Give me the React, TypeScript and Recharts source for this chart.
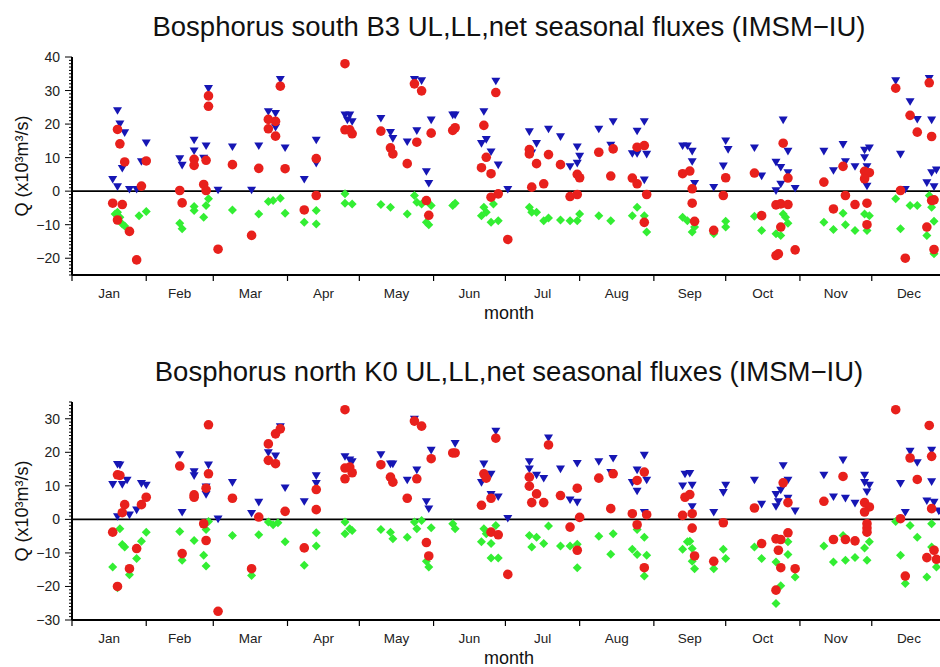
import React from "react";
import { ReferenceLine, Scatter, ScatterChart, XAxis, YAxis } from "recharts";

type Pt = [number, number]; // [day of year, Q in 10^3 m^3/s]

const monthNames = ["Jan", "Feb", "Mar", "Apr", "May", "Jun", "Jul", "Aug", "Sep", "Oct", "Nov", "Dec"];
const monthStarts = [0, 31, 59, 90, 120, 151, 181, 212, 243, 273, 304, 334, 365];
const monthMids = [15.5, 45, 74.5, 105, 135.5, 166, 196.5, 227.5, 258, 288.5, 319, 349.5];

const southTicks = [-20, -10, 0, 10, 20, 30, 40];
const northTicks = [-30, -20, -10, 0, 10, 20, 30];

// Bosphorus south B3
const southUL: Pt[] = [
  [19, 23.9], [20, 19.9], [22, 17.3], [21, 6.7], [17, 3.4], [19, 1.2], [24, 0.4], [27, 0.4], [31, 14.3], [29, 8.7],
  [45, 9.6], [46, 7.6], [51, 15.1], [51, 11.9], [56, 13.4], [55, 9.7], [57, 30.5], [61, 0.2], [67, 13.1], [75, 0.2],
  [78, 13.4], [82, 23.6], [85, 23.1], [85, 18.9], [87, 33.2], [89, 12.8],
  [102, 15.1], [102, 8.2], [97, 3.4], [114, 22.6], [116, 22.6], [115, 21.1], [117, 20.6], [129, 21.6], [133, 17.4],
  [134, 15.6], [140, 14.6], [143, 33.2], [146, 32.8], [144, 17.9], [150, 21.1], [148, 5.7], [149, 2.2], [159, 22.6],
  [160, 22.6], [172, 23.6], [171, 14.1], [173, 15.3], [175, 11.6], [177, 32.7], [178, 7.7], [182, 0.4],
  [191, 17.6], [194, 14.1], [192, 11.3], [199, 18.4], [204, 16.1], [211, 13.1], [212, 10.3], [211, 8.2], [208, 7.2],
  [220, 18.4], [226, 20.6], [225, 13.6], [236, 17.8], [239, 20.6], [234, 11.1], [236, 11.1], [240, 10.9], [239, 3.2],
  [255, 13.4], [257, 13.4], [259, 11.8], [259, 8.7], [260, 2.2], [268, 1.0], [273, 14.9], [274, 12.3], [272, 7.4],
  [285, 12.8], [288, 4.4], [297, 21.1], [299, 11.8], [294, 8.5], [296, 7.0], [299, 5.4], [296, 2.0], [294, 0],
  [302, 0.7], [314, 11.8], [322, 13.8], [318, 6.0], [323, 8.7], [327, 7.2], [331, 12.1], [333, 12.8], [331, 9.9],
  [332, 7.2], [332, 1.4], [344, 32.8], [350, 26.6], [353, 21.3], [359, 21.1], [358, 33.5], [346, 10.9], [348, 0.4],
  [357, 2.4], [359, 5.4], [361, 6.2], [360, 1.2],
];

const southNet: Pt[] = [
  [19, 18.4], [20, 14.1], [22, 8.7], [17, -3.6], [21, -4.0], [19, -8.6], [24, -12.0], [27, -20.5], [29, 1.5], [31, 9.0],
  [45, 0.2], [46, -3.5], [51, 9.5], [51, 7.7], [56, 9.2], [55, 2.0], [56, 0.2], [57, 28.4], [57, 25.3], [61, -17.3],
  [67, 7.9], [75, -13.2], [78, 6.8], [82, 21.4], [85, 20.8], [82, 18.6], [85, 16.4], [87, 31.3], [89, 6.7],
  [102, 9.7], [102, -1.3], [97, -5.6], [114, 38.0], [114, 18.3], [116, 18.3], [117, 17.1], [129, 17.9], [133, 12.9],
  [134, 11.1], [140, 8.2], [143, 32.0], [146, 29.9], [144, 14.6], [150, 17.3], [148, -2.8], [149, -7.2], [159, 18.1],
  [160, 18.9], [172, 19.6], [173, 10.1], [171, 7.0], [175, 5.2], [177, 29.4], [175, -1.8], [178, -0.8], [182, -14.4],
  [191, 12.4], [191, 11.1], [194, 8.2], [199, 10.9], [204, 7.9], [211, 5.0], [212, 4.0], [197, 2.2], [192, 1.2],
  [208, -1.6], [211, -1.0], [220, 11.6], [226, 12.6], [225, 4.5], [236, 13.1], [239, 13.6], [234, 3.9], [236, 2.2],
  [240, -1.0], [239, -9.3], [255, 5.2], [258, 6.0], [259, 0.7], [259, -3.6], [260, -9.0], [268, -11.7], [273, 4.0],
  [272, -1.3],
  [285, 5.4], [288, -7.3], [297, 14.3], [299, 3.9], [294, -4.1], [296, -3.8], [299, -4.0], [296, -10.7], [294, -19.2],
  [295, -18.7], [302, -17.5], [314, 2.7], [322, 7.4], [318, -5.3], [323, -1.3], [327, -4.0], [331, 5.9], [333, 5.5],
  [331, 3.7], [332, -3.6], [332, -10.0], [344, 30.7], [350, 22.6], [353, 17.6], [359, 16.3], [358, 32.3], [346, 0.2],
  [348, -20.0], [357, -10.7], [359, -2.8], [360, -2.6], [360, -17.4],
];

const southLL: Pt[] = [
  [18, -6.8], [19, -6.3], [20, -7.8], [21, -9.8], [22, -10.4], [28, -7.3], [31, -6.1],
  [45, -9.6], [46, -11.2], [51, -4.6], [51, -5.8], [55, -7.8], [56, -4.3], [57, -2.3], [67, -5.6], [78, -6.8],
  [82, -3.1], [84, -2.8], [87, -2.1], [89, -6.6],
  [97, -9.3], [102, -5.8], [102, -9.8], [114, -0.8], [114, -3.6], [117, -3.8], [129, -4.0], [133, -4.8], [140, -6.8],
  [143, -1.3], [144, -3.3], [146, -3.8], [150, -4.3], [148, -9.3], [149, -10.0], [159, -4.3], [160, -3.6], [172, -4.8],
  [171, -7.3], [173, -6.3], [175, -9.3], [178, -8.8], [176, -3.8],
  [191, -4.8], [192, -6.3], [194, -6.3], [197, -8.8], [199, -8.0], [204, -8.6], [208, -8.8], [211, -8.8], [212, -6.8],
  [220, -7.3], [225, -8.8], [234, -7.3], [236, -4.8], [239, -7.3], [240, -12.2], [255, -7.8], [257, -8.8],
  [259, -12.2], [260, -10.7], [268, -12.7], [273, -9.0], [273, -10.7],
  [285, -7.5], [288, -11.7], [297, -6.8], [298, -7.8], [299, -9.6], [294, -12.7], [296, -13.2], [314, -9.3],
  [318, -11.4], [322, -6.6], [323, -10.0], [327, -11.7], [331, -6.8], [333, -7.3], [332, -11.7], [344, -2.3],
  [346, -11.2], [350, -4.3], [353, -4.3], [358, -1.3], [359, -4.8], [360, -9.0], [357, -13.2], [360, -18.7],
];

// Bosphorus north K0
const northUL: Pt[] = [
  [19, 16.3], [20, 16.1], [17, 10.3], [21, 10.3], [23, 11.6], [19, 0.7], [24, 1.2], [27, 2.7], [29, 10.6], [31, 10.1],
  [45, 19.2], [46, 2.0], [51, 14.1], [51, 12.9], [57, 16.1], [56, 9.6], [56, 7.3], [61, 0], [67, 10.9], [75, 1.7],
  [78, 5.0], [82, 19.8], [85, 18.8], [87, 27.5], [89, 9.3],
  [102, 12.9], [102, 10.6], [97, 5.2], [114, 18.6], [116, 17.6], [117, 17.1], [129, 19.2], [133, 16.4], [134, 16.4],
  [140, 11.6], [143, 29.8], [144, 14.6], [150, 20.5], [148, 5.2], [149, 3.0], [160, 22.5], [172, 16.4], [175, 13.4],
  [171, 10.9], [175, 7.3], [178, 6.6], [177, 26.2], [182, 0.2],
  [191, 17.1], [191, 14.9], [194, 13.1], [197, 12.1], [199, 24.2], [204, 14.9], [211, 16.6], [208, 5.7], [211, 5.0],
  [220, 17.1], [226, 18.1], [225, 13.9], [236, 14.6], [239, 19.0], [234, 10.9], [236, 8.3], [240, 11.6], [239, 2.0],
  [256, 13.4], [258, 13.6], [255, 9.9], [259, 10.1], [259, 3.7], [268, 2.0], [273, 10.1], [272, 7.9],
  [285, 11.6], [288, 4.4], [297, 15.9], [299, 11.6], [294, 7.3], [296, 8.6], [295, 5.2], [294, 3.7], [299, 6.2],
  [302, 2.4], [314, 13.1], [322, 17.6], [318, 6.6], [323, 6.2], [327, 4.7], [331, 13.1], [331, 10.9], [333, 10.1],
  [332, 8.1], [346, 10.6], [348, 2.0], [350, 20.2], [353, 16.8], [359, 20.5], [359, 11.1], [357, 5.4], [360, 5.0],
  [362, 2.4],
];

const northNet: Pt[] = [
  [19, 13.3], [20, 13.1], [22, 4.4], [21, 2.0], [17, -3.8], [19, -20.0], [27, -8.7], [24, -14.7], [29, 4.4], [31, 6.6],
  [45, 15.9], [46, -10.2], [51, 7.3], [51, 6.6], [57, 28.2], [57, 13.6], [56, 9.3], [55, -1.3], [56, -6.3], [61, -27.4],
  [67, 6.3], [75, -14.7], [78, 0.7], [82, 22.5], [82, 17.6], [85, 16.6], [85, 25.5], [87, 27.0], [89, 2.4],
  [102, 8.9], [102, 2.9], [97, -8.5], [114, 32.7], [114, 15.3], [116, 15.6], [117, 13.9], [114, 12.1], [129, 16.3],
  [133, 12.6], [134, 11.1], [140, 6.3], [143, 29.3], [146, 27.8], [144, 12.1], [150, 18.1], [148, -6.9], [149, -10.9],
  [159, 19.8], [160, 19.8], [172, 13.6], [173, 12.3], [171, 4.2], [175, 6.3], [177, 24.2], [175, -3.8], [178, -4.6],
  [182, -16.4],
  [191, 12.6], [191, 9.9], [194, 7.6], [199, 22.2], [204, 7.1], [211, 9.3], [192, 5.0], [197, 5.0], [212, 0.6],
  [208, -2.3], [211, -9.2], [220, 12.3], [226, 13.6], [225, 3.2], [236, 11.6], [239, 14.1], [234, 1.7], [236, -1.6],
  [240, 1.4], [239, -14.4], [256, 6.6], [258, 7.4], [255, 1.2], [259, 1.7], [259, -2.6], [260, -10.9], [268, -12.5],
  [272, -1.0],
  [285, 3.4], [288, -7.2], [297, 10.9], [299, 5.0], [299, -4.0], [294, -5.8], [296, -6.0], [295, -9.2], [296, -14.4],
  [302, -14.7], [294, -21.1], [314, 5.4], [322, 12.8], [318, -6.0], [323, -6.0], [327, -6.4], [331, 5.0], [333, 3.7],
  [331, 2.2], [332, -1.3], [332, -2.6], [332, -3.8], [344, 32.7], [358, 28.0], [350, 18.3], [359, 18.8], [353, 11.9],
  [346, 0.2], [348, -16.9], [359, 3.2], [360, -9.2], [357, -11.4], [361, -11.9],
];

const northLL: Pt[] = [
  [17, -14.2], [20, -2.8], [22, -8.2], [21, -7.5], [29, -6.5], [31, -3.8], [27, -11.7], [24, -16.5], [19, -20.4],
  [45, -3.6], [46, -12.2], [51, -6.3], [55, -10.7], [56, -13.9], [56, -3.0], [57, -0.6], [67, -4.8], [75, -16.7],
  [78, -4.6], [82, -0.8], [84, -1.6], [86, -1.0], [89, -6.7],
  [97, -13.7], [102, -4.0], [102, -7.9], [114, -0.8], [114, -4.3], [116, -2.8], [117, -3.3], [129, -3.0], [133, -3.8],
  [134, -5.8], [140, -5.3], [143, -0.8], [144, -2.8], [146, -0.3], [150, -2.5], [148, -12.5], [149, -14.2], [159, -1.3],
  [160, -2.8], [172, -2.8], [171, -6.7], [173, -4.3], [175, -7.2], [175, -11.5], [178, -11.5], [177, -1.8],
  [191, -4.8], [194, -5.3], [192, -8.2], [197, -7.2], [199, -2.0], [204, -7.9], [208, -7.9], [211, -7.4], [211, -14.4],
  [220, -5.0], [226, -4.3], [225, -10.4], [234, -8.9], [236, -10.5], [236, -3.0], [239, -5.3], [240, -10.7],
  [239, -16.9], [255, -8.9], [257, -6.7], [258, -6.5], [259, -8.7], [259, -12.5], [260, -14.7], [268, -14.7],
  [272, -8.9], [273, -11.7],
  [285, -8.2], [288, -11.7], [299, -6.7], [299, -10.5], [294, -12.7], [296, -19.8], [294, -25.1], [302, -17.2],
  [314, -7.9], [318, -12.7], [322, -4.8], [323, -12.2], [327, -11.4], [331, -8.5], [333, -6.7], [332, -12.2],
  [346, -10.7], [350, -1.8], [353, -5.3], [344, -0.6], [348, -19.1], [359, -1.3], [359, -8.2], [357, -17.2],
  [361, -14.2],
];

const RED = "#e8201c";
const BLUE = "#1616b4";
const GREEN = "#33ee33";

const CHART_W = 960;
const PLOT_LEFT = 72;
const PLOT_W = 874;
const PLOT_H = 218;
const YAXIS_W = 60;
const XAXIS_H = 45;
const FONT = '"Liberation Sans", Arial, Helvetica, sans-serif';

const rows = (pts: Pt[]) => pts.map(([d, q]) => ({ d, q }));
const fmt = (v: number) => (v < 0 ? "\u2212" + Math.abs(v) : String(v));

const NetDot = (p: any) =>
  p.cx == null ? <g /> : <circle cx={p.cx} cy={p.cy} r={4.8} fill={RED} />;
const ULTri = (p: any) =>
  p.cx == null ? <g /> : (
    <polygon points={`${p.cx - 4.5},${p.cy - 3.8} ${p.cx + 4.5},${p.cy - 3.8} ${p.cx},${p.cy + 3.8}`} fill={BLUE} />
  );
const LLDiamond = (p: any) =>
  p.cx == null ? <g /> : (
    <polygon points={`${p.cx},${p.cy - 4.5} ${p.cx + 4.5},${p.cy} ${p.cx},${p.cy + 4.5} ${p.cx - 4.5},${p.cy}`} fill={GREEN} />
  );

const startSet = new Set(monthStarts);

type PanelProps = {
  title: string;
  ul: Pt[];
  ll: Pt[];
  net: Pt[];
  yMin: number;
  yMax: number;
  yTicks: number[];
  plotTop: number;
  height: number;
};

function Panel({ title, ul, ll, net, yMin, yMax, yTicks, plotTop, height }: PanelProps) {
  const plotBottom = plotTop + PLOT_H;
  const minor: number[] = [];
  for (let v = yMin; v <= yMax; v++) minor.push(v);

  const yTick = (p: any) => {
    const v = p.payload.value;
    const major = yTicks.includes(v);
    return (
      <g>
        <line x1={PLOT_LEFT} x2={PLOT_LEFT - (major ? 7 : 3)} y1={p.y} y2={p.y} stroke="#000" strokeWidth={1} />
        {major && (
          <text x={PLOT_LEFT - 12} y={p.y + 5} textAnchor="end" fontSize={14} fill="#222">
            {fmt(v)}
          </text>
        )}
      </g>
    );
  };

  const bottomTick = (p: any) => {
    const v = p.payload.value;
    if (startSet.has(v)) {
      return <line x1={p.x} x2={p.x} y1={plotBottom} y2={plotBottom + 6} stroke="#000" strokeWidth={1.2} />;
    }
    return (
      <text x={p.x} y={plotBottom + 23} textAnchor="middle" fontSize={13.5} fill="#222">
        {monthNames[monthMids.indexOf(v)]}
      </text>
    );
  };

  const topTick = (p: any) => (
    <line x1={p.x} x2={p.x} y1={plotTop} y2={plotTop - 6} stroke="#000" strokeWidth={1.2} />
  );

  return (
    <div style={{ position: "relative", width: CHART_W, height }}>
      <div
        style={{
          position: "absolute",
          left: PLOT_LEFT,
          width: PLOT_W,
          top: plotTop - 45,
          height: 30,
          lineHeight: "30px",
          textAlign: "center",
          fontSize: 27.5,
          color: "#111",
          whiteSpace: "nowrap",
        }}
      >
        {title}
      </div>
      <ScatterChart
        width={CHART_W}
        height={height}
        margin={{
          top: plotTop,
          left: PLOT_LEFT - YAXIS_W,
          right: CHART_W - PLOT_LEFT - PLOT_W,
          bottom: height - plotTop - PLOT_H - XAXIS_H,
        }}
      >
        <XAxis
          xAxisId="b"
          type="number"
          dataKey="d"
          domain={[0, 365]}
          allowDataOverflow
          ticks={[...monthStarts, ...monthMids]}
          interval={0}
          tickLine={false}
          tickSize={0}
          tickMargin={0}
          tick={bottomTick}
          height={XAXIS_H}
          axisLine={{ stroke: "#000", strokeWidth: 2 }}
          label={{ value: "month", position: "insideBottom", offset: 1, fontSize: 18, fill: "#111" }}
        />
        <XAxis
          xAxisId="t"
          orientation="top"
          type="number"
          dataKey="d"
          domain={[0, 365]}
          allowDataOverflow
          ticks={monthStarts}
          interval={0}
          tickLine={false}
          tickSize={0}
          tickMargin={0}
          tick={topTick}
          height={0}
          axisLine={{ stroke: "#000", strokeWidth: 2 }}
        />
        <YAxis
          yAxisId="q"
          type="number"
          dataKey="q"
          domain={[yMin, yMax]}
          allowDataOverflow
          ticks={minor}
          interval={0}
          tickLine={false}
          tickSize={0}
          tickMargin={0}
          tick={yTick}
          width={YAXIS_W}
          axisLine={{ stroke: "#000", strokeWidth: 2 }}
          label={{
            value: "Q (x10\u00b3m\u00b3/s)",
            angle: -90,
            position: "insideLeft",
            offset: 10,
            fontSize: 18,
            fill: "#111",
            style: { textAnchor: "middle" },
          }}
        />
        <ReferenceLine xAxisId="b" yAxisId="q" y={0} stroke="#000" strokeWidth={1.6} />
        <Scatter xAxisId="b" yAxisId="q" data={rows(ll)} shape={LLDiamond} isAnimationActive={false} />
        <Scatter xAxisId="b" yAxisId="q" data={rows(ul)} shape={ULTri} isAnimationActive={false} />
        <Scatter xAxisId="b" yAxisId="q" data={rows(net)} shape={NetDot} isAnimationActive={false} />
      </ScatterChart>
    </div>
  );
}

export default function App() {
  return (
    <div
      style={{
        position: "fixed",
        left: 0,
        top: 0,
        width: 940,
        height: 667,
        overflow: "hidden",
        background: "#fff",
        fontFamily: FONT,
      }}
    >
      <Panel
        title={"Bosphorus south B3 UL,LL,net seasonal fluxes (IMSM\u2212IU)"}
        ul={southUL}
        ll={southLL}
        net={southNet}
        yMin={-25}
        yMax={40}
        yTicks={southTicks}
        plotTop={57}
        height={340}
      />
      <Panel
        title={"Bosphorus north K0 UL,LL,net seasonal fluxes (IMSM\u2212IU)"}
        ul={northUL}
        ll={northLL}
        net={northNet}
        yMin={-30}
        yMax={35}
        yTicks={northTicks}
        plotTop={62}
        height={327}
      />
    </div>
  );
}
